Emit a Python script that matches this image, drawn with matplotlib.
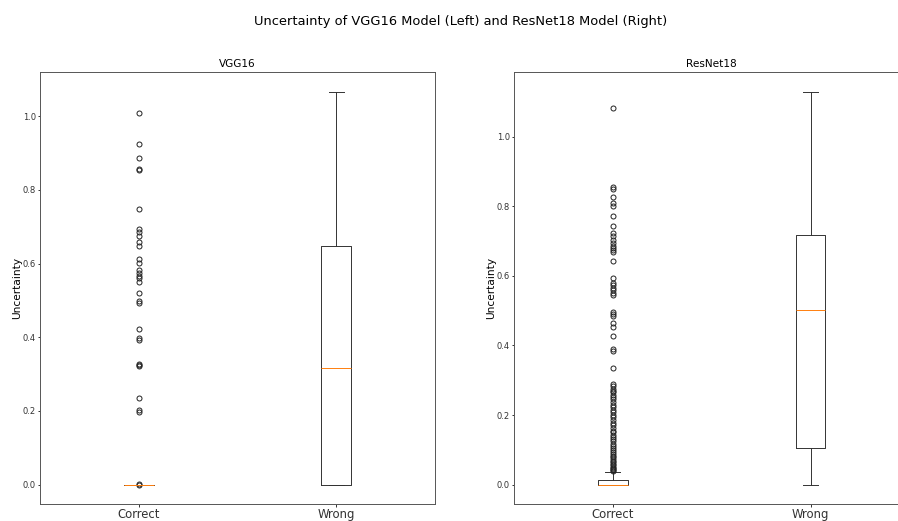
import numpy as np
import matplotlib
matplotlib.use('Agg')
import matplotlib.pyplot as plt

labels = ['Correct', 'Wrong']

# box stats: [correct, wrong]
vgg_q1 = [0.0, 0.0]
vgg_med = [0.0, 0.317]
vgg_q3 = [0.0, 0.648]
vgg_lo = [0.0, 0.0]
vgg_hi = [0.0, 1.067]
vgg_fliers_correct = [1.009, 0.926, 0.887, 0.856, 0.853, 0.749, 0.695, 0.687, 0.674, 0.660,
                      0.649, 0.613, 0.603, 0.583, 0.575, 0.567, 0.560, 0.551, 0.520, 0.499,
                      0.494, 0.422, 0.397, 0.392, 0.327, 0.324, 0.322, 0.236, 0.202, 0.198,
                      0.0, 0.001]
vgg_fliers_wrong = []

res_q1 = [0.0, 0.106]
res_med = [0.0, 0.503]
res_q3 = [0.0145, 0.716]
res_lo = [0.0, 0.0]
res_hi = [0.036, 1.129]
res_fliers_correct = [1.082, 0.856, 0.849, 0.827, 0.808, 0.801, 0.773, 0.744, 0.722, 0.715,
                      0.703, 0.695, 0.687, 0.681, 0.675, 0.669, 0.643, 0.593, 0.578, 0.573,
                      0.566, 0.560, 0.551, 0.545, 0.497, 0.490, 0.484, 0.465, 0.453, 0.428,
                      0.391, 0.384, 0.334, 0.290, 0.283, 0.276, 0.270, 0.265, 0.258, 0.252,
                      0.245, 0.238, 0.230, 0.222, 0.215, 0.208, 0.200, 0.193, 0.186, 0.178,
                      0.170, 0.163, 0.155, 0.150, 0.143, 0.137, 0.130, 0.124, 0.118, 0.112,
                      0.106, 0.100, 0.094, 0.088, 0.083, 0.078, 0.073, 0.068, 0.064, 0.060,
                      0.056, 0.052, 0.048, 0.045, 0.042, 0.040]
res_fliers_wrong = []


def make_stats(q1, med, q3, lo, hi, fliers):
    stats = []
    for i in range(len(labels)):
        stats.append({'label': labels[i], 'q1': q1[i], 'med': med[i], 'q3': q3[i],
                      'whislo': lo[i], 'whishi': hi[i], 'fliers': np.array(fliers[i])})
    return stats


W, H = 898, 521
fig = plt.figure(figsize=(W / 100, H / 100), dpi=100)
ax1 = fig.add_axes([40 / W, 16.7 / H, 395 / W, 432.3 / H])
ax2 = fig.add_axes([514 / W, 16.7 / H, 395.5 / W, 432.3 / H])

lw = 0.7
props = dict(
    boxprops=dict(linewidth=lw, color='#333333'),
    whiskerprops=dict(linewidth=lw, color='#333333'),
    capprops=dict(linewidth=lw, color='#333333'),
    medianprops=dict(linewidth=lw, color='C1'),
    flierprops=dict(marker='o', markersize=3.6, markeredgewidth=0.7,
                    markerfacecolor='none', markeredgecolor='#222222'),
)

ax1.bxp(make_stats(vgg_q1, vgg_med, vgg_q3, vgg_lo, vgg_hi,
                   [vgg_fliers_correct, vgg_fliers_wrong]), widths=0.15, **props)
ax2.bxp(make_stats(res_q1, res_med, res_q3, res_lo, res_hi,
                   [res_fliers_correct, res_fliers_wrong]), widths=0.15, **props)

for ax, name in [(ax1, 'VGG16'), (ax2, 'ResNet18')]:
    ax.set_title(name, fontsize=7.6, pad=3.5)
    ax.set_ylabel('Uncertainty', fontsize=7.6, labelpad=0)
    ax.set_xlim(0.5, 2.5)
    ax.tick_params(axis='y', labelsize=6, length=1.8, width=lw, pad=1.2, colors='#333333')
    ax.tick_params(axis='x', labelsize=8.4, length=2.1, width=lw, pad=0.5, colors='#333333')
    for s in ax.spines.values():
        s.set_linewidth(lw)
        s.set_color('#555555')

fig.suptitle('Uncertainty of VGG16 Model (Left) and ResNet18 Model (Right)',
             x=460.5 / W, y=1 - 22 / H, va='center', fontsize=9.4)

plt.savefig('out.png', dpi=100)
